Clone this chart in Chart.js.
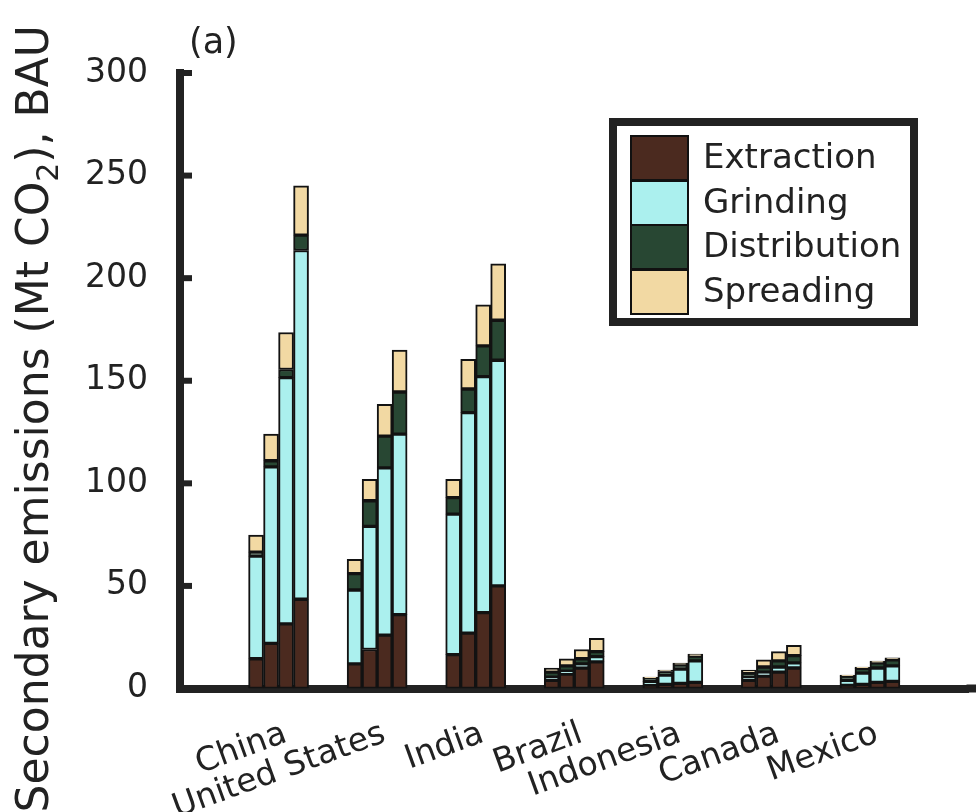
<!DOCTYPE html>
<html><head><meta charset="utf-8">
<script src="https://cdn.jsdelivr.net/npm/chart.js@4.4.1/dist/chart.umd.min.js"></script>
<style>html,body{margin:0;padding:0;background:#fff}canvas{display:block}</style>
</head><body>
<canvas id="c" width="976" height="812"></canvas>
<script>
const countries = ['China', 'United States', 'India', 'Brazil', 'Indonesia', 'Canada', 'Mexico'];
const components = ['Extraction', 'Grinding', 'Distribution', 'Spreading'];
// values per country, four bars each (Mt CO2)
const extraction   = [[14.5, 22, 31.5, 43.5], [12, 19, 26, 36], [16.5, 27, 37, 50], [4, 7, 10, 13], [1.5, 2, 2.5, 3], [4, 6, 8, 10], [1.5, 2, 3, 3.5]];
const grinding     = [[50, 86, 120, 170], [36, 60, 81.5, 88], [68.5, 107.5, 115, 110], [1.5, 1.5, 2, 2.5], [2, 4.5, 7, 10.5], [1.5, 2, 2.5, 2.5], [2.5, 5.5, 7, 7.5]];
const distribution = [[2, 3, 4, 7.5], [8, 12.5, 15.5, 20.5], [8, 11.5, 15, 19.5], [2.5, 2.5, 2.5, 2.5], [1.5, 1.8, 2, 2.3], [2, 2.5, 3, 3.5], [2, 2.3, 2.5, 3]];
const spreading    = [[8.3, 13, 18, 24], [7, 10.5, 15.5, 20.5], [9, 14.5, 20, 27.5], [2, 3.5, 4.5, 6.5], [0.6, 0.7, 0.9, 1], [1.5, 3.5, 4.5, 5], [0.6, 0.7, 0.9, 1]];
const yTicks = [0, 50, 100, 150, 200, 250, 300];

const colors = ['#4b2a1f', '#abf0ee', '#284733', '#f2d9a3'];
const series = [extraction, grinding, distribution, spreading];
const FONT = "'DejaVu Sans', sans-serif";

const labels = ['', ...countries, ''];
const datasets = [];
for (let b = 0; b < 4; b++) {
  series.forEach((s, c) => {
    datasets.push({
      label: components[c],
      data: [null, ...s.map(v => v[b]), null],
      backgroundColor: colors[c],
      borderColor: '#121212',
      borderWidth: 2,
      borderSkipped: false,
      stack: 's' + b,
      barThickness: 15
    });
  });
}

const deco = {
  id: 'deco',
  afterDraw(chart) {
    const {ctx, chartArea, scales: {y}} = chart;
    ctx.save();
    ctx.strokeStyle = '#222';
    ctx.lineCap = 'butt';
    // inward ticks
    ctx.lineWidth = 6;
    yTicks.forEach(v => {
      const py = y.getPixelForValue(v);
      ctx.beginPath(); ctx.moveTo(chartArea.left, py); ctx.lineTo(chartArea.left + 12, py); ctx.stroke();
    });
    // extend bottom axis to the edges
    ctx.lineWidth = 8;
    ctx.beginPath(); ctx.moveTo(chartArea.right - 2, chartArea.bottom); ctx.lineTo(chart.width, chartArea.bottom); ctx.stroke();
    ctx.beginPath(); ctx.moveTo(chartArea.left - 4, chartArea.bottom); ctx.lineTo(chartArea.left + 4, chartArea.bottom); ctx.stroke();

    // y title with subscript
    ctx.fillStyle = '#222';
    const big = '44px ' + FONT, small = '30px ' + FONT;
    const parts = [
      {t: 'Secondary emissions (Mt CO', f: big, dy: 0},
      {t: '2', f: small, dy: 13},
      {t: '), BAU', f: big, dy: 0}
    ];
    let total = 0;
    parts.forEach(p => { ctx.font = p.f; p.w = ctx.measureText(p.t).width; total += p.w; });
    ctx.save();
    ctx.translate(37, 25 + total);
    ctx.rotate(-Math.PI / 2);
    ctx.textBaseline = 'middle'; ctx.textAlign = 'left';
    let xp = 0;
    parts.forEach(p => { ctx.font = p.f; ctx.fillText(p.t, xp, p.dy); xp += p.w; });
    ctx.restore();

    // panel label
    ctx.font = '35px ' + FONT;
    ctx.textBaseline = 'middle'; ctx.textAlign = 'left';
    ctx.fillText('(a)', 189, 44);

    // legend
    ctx.lineWidth = 8; ctx.strokeStyle = '#222';
    ctx.fillStyle = '#fff';
    ctx.fillRect(613, 122, 301, 200);
    ctx.strokeRect(613, 122, 301, 200);
    const tops = [136, 181, 225, 270];
    components.forEach((name, i) => {
      ctx.fillStyle = colors[i];
      ctx.fillRect(631, tops[i], 57, 44);
      ctx.lineWidth = 2; ctx.strokeStyle = '#111';
      ctx.strokeRect(631, tops[i], 57, 44);
      ctx.fillStyle = '#222';
      ctx.font = '34px ' + FONT;
      ctx.textBaseline = 'middle';
      ctx.fillText(name, 703, tops[i] + 23);
    });
    ctx.restore();
  }
};

new Chart(document.getElementById('c'), {
  type: 'bar',
  data: {labels, datasets},
  options: {
    responsive: false,
    animation: false,
    devicePixelRatio: 1,
    layout: {padding: {top: 73, right: 7.5, left: 0, bottom: 0}},
    plugins: {legend: {display: false}, tooltip: {enabled: false}},
    scales: {
      x: {
        type: 'category',
        offset: false,
        grid: {display: false, drawTicks: false},
        border: {display: true, width: 8, color: '#222'},
        ticks: {autoSkip: false, minRotation: 20, maxRotation: 20, padding: 26, labelOffset: 7, color: '#222', font: {family: FONT, size: 33}},
        afterFit: s => { s.height = 123.5; s.paddingLeft = 0; s.paddingRight = 0; }
      },
      y: {
        min: 0, max: 300,
        grid: {display: false, drawTicks: false},
        border: {display: true, width: 8, color: '#222'},
        ticks: {stepSize: 50, padding: 32, color: '#222', font: {family: FONT, size: 33}},
        afterFit: s => { s.width = 180; s.paddingTop = 0; s.paddingBottom = 0; }
      }
    }
  },
  plugins: [deco]
});
</script>
</body></html>
